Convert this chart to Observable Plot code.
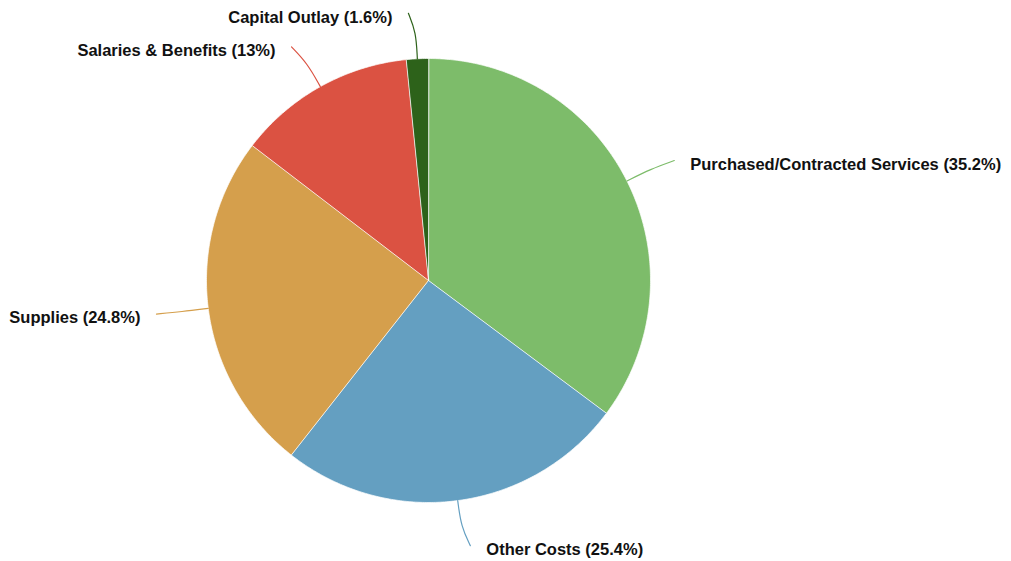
<!DOCTYPE html>
<html>
<head>
<meta charset="utf-8">
<script src="https://cdn.jsdelivr.net/npm/d3@7"></script>
<script src="https://cdn.jsdelivr.net/npm/@observablehq/plot@0.6"></script>
<style>
  html, body { margin: 0; padding: 0; background: #ffffff; }
  #chart { width: 1011px; height: 561px; }
</style>
</head>
<body>
<div id="chart"></div>
<script>
const categories = ["Purchased/Contracted Services", "Other Costs", "Supplies", "Salaries & Benefits", "Capital Outlay"];
const values = [35.2, 25.4, 24.8, 13, 1.6];
const percentLabels = ["35.2%", "25.4%", "24.8%", "13%", "1.6%"];
const colors = ["#7dbc6a", "#649fc1", "#d59f4c", "#db5242", "#2d621a"];

const slices = categories.map((c, i) => ({cat: c, value: values[i], label: `${c} (${percentLabels[i]})`}));
const arcs = d3.pie().sort(null).value(d => d.value).startAngle(0).endAngle(2 * Math.PI)(slices);

// polygon points for each slice (unit circle, data space)
const slicePts = [];
arcs.forEach(a => {
  slicePts.push({cat: a.data.cat, x: 0, y: 0});
  const n = Math.max(2, Math.ceil((a.endAngle - a.startAngle) / 0.01));
  for (let k = 0; k <= n; k++) {
    const t = a.startAngle + (a.endAngle - a.startAngle) * k / n;
    slicePts.push({cat: a.data.cat, x: Math.sin(t), y: Math.cos(t)});
  }
});

// connectors and labels
const connPts = [];
const labelRows = [];
arcs.forEach(a => {
  const m = (a.startAngle + a.endAngle) / 2;
  const sx = Math.sin(m), sy = Math.cos(m);
  const right = sx >= 0;
  const shift = (right ? 1 : -1) * 0.03;
  const ex = 1.205 * sx + shift, ey = 1.205 * sy;
  connPts.push({cat: a.data.cat, x: sx, y: sy});
  connPts.push({cat: a.data.cat, x: 1.12 * sx, y: 1.12 * sy});
  connPts.push({cat: a.data.cat, x: ex, y: ey});
  labelRows.push({cat: a.data.cat, label: a.data.label, x: ex, y: ey, right});
});

const chart = Plot.plot({
  width: 1011,
  height: 561,
  margin: 0,
  x: {domain: [-1, 1], range: [206, 650], axis: null},
  y: {domain: [-1, 1], range: [502, 58], axis: null},
  color: {domain: categories, range: colors},
  style: {background: "#ffffff", fontFamily: "'Liberation Sans', Arial, Helvetica, sans-serif"},
  marks: [
    Plot.line(slicePts, {x: "x", y: "y", z: "cat", fill: "cat", stroke: "#ffffff", strokeWidth: 1, strokeOpacity: 0.7, curve: "linear-closed"}),
    Plot.line(connPts, {x: "x", y: "y", z: "cat", stroke: "cat", strokeWidth: 1.2, curve: "basis"}),
    Plot.text(labelRows.filter(d => d.right), {x: "x", y: "y", text: "label", textAnchor: "start", dx: 16, dy: 4, fontSize: 16.5, fontWeight: "bold", fill: "#111111"}),
    Plot.text(labelRows.filter(d => !d.right), {x: "x", y: "y", text: "label", textAnchor: "end", dx: -16, dy: 4, fontSize: 16.5, fontWeight: "bold", fill: "#111111"})
  ]
});
document.getElementById("chart").appendChild(chart);
</script>
</body>
</html>
